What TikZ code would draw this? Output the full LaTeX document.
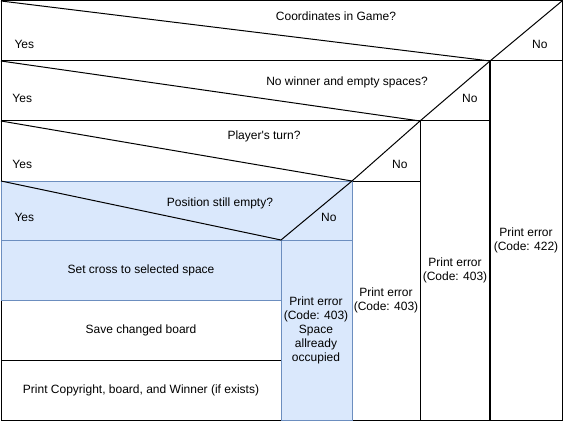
\documentclass[tikz,border=0pt]{standalone}
\usepackage{fontspec}
\setmainfont{Liberation Sans}
\definecolor{bfill}{HTML}{DAE8FC}
\definecolor{bline}{HTML}{6C8EBF}
\begin{document}
\begin{tikzpicture}[x=1pt,y=-1pt,line width=1pt,
  txt/.style={font=\fontsize{12}{14}\selectfont,inner sep=0pt,align=center},
  blk/.style={draw=black,fill=white},
  blu/.style={draw=bline,fill=bfill},
  dia/.style={draw=black}]
\useasboundingbox (0,0) rectangle (564,422);
% --- white (black-bordered) blocks ---
\draw[blk] (1,1) rectangle (562,61);
\draw[blk] (490,61) rectangle (562,420);
\draw[blk] (1,61) rectangle (490,121);
\draw[blk] (420,121) rectangle (490,420);
\draw[blk] (1,121) rectangle (420,181);
\draw[blk] (352,181) rectangle (420,420);
\draw[blk] (1,300) rectangle (281,360);
\draw[blk] (1,360) rectangle (281,420);
\draw[black,line width=1.5pt] (490,61) -- (490,420);
% --- blue blocks ---
\draw[blu] (1,181) rectangle (352,240);
\draw[blu] (1,240) rectangle (281,300);
\draw[blu] (281,240) rectangle (352,420);
% --- diagonals ---
\coordinate (c1) at (490,61);
\coordinate (c2) at (420,121);
\coordinate (c3) at (352,181);
\coordinate (c4) at (281,240);
\draw[dia] (1,1) -- (c1) -- (562,1);
\draw[dia] (1,61) -- (c2) -- (c1);
\draw[dia] (1,121) -- (c3) -- (c2);
\draw[dia] (1,181) -- (c4) -- (c3);
% --- texts ---
\node[txt] (q1) at (336,16) {Coordinates in Game?};
\node[txt,anchor=west] (y1) at (14,44) {Yes};
\node[txt,anchor=east] (n1) at (548,44) {No};
\node[txt] (q2) at (347,82) {No winner and empty spaces?};
\node[txt,anchor=west] (y2) at (12,98) {Yes};
\node[txt,anchor=east] (n2) at (478,98) {No};
\node[txt] (q3) at (264,136) {Player\textquotesingle s turn?};
\node[txt,anchor=west] (y3) at (12,164) {Yes};
\node[txt,anchor=east] (n3) at (408,164) {No};
\node[txt] (q4) at (220,203) {Position still empty?};
\node[txt,anchor=west] (y4) at (14,217) {Yes};
\node[txt,anchor=east] (n4) at (337,217) {No};
\node[txt] (e1) at (526,240) {Print error\\(Code: 422)};
\node[txt] (e2) at (455,270) {Print error\\(Code: 403)};
\node[txt] (e3) at (386,300) {Print error\\(Code: 403)};
\node[txt] (e4) at (316,330) {Print error\\(Code: 403)\\Space\\allready\\occupied};
\node[txt] (s1) at (141,270) {Set cross to selected space};
\node[txt] (s2) at (141,330) {Save changed board};
\node[txt] (s3) at (141,390) {Print Copyright, board, and Winner (if exists)};
\end{tikzpicture}
\end{document}
